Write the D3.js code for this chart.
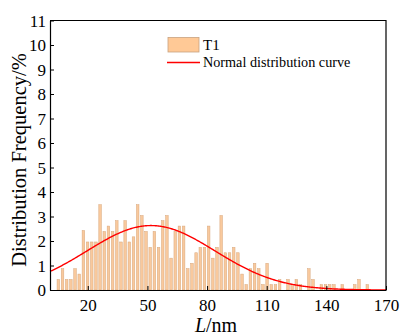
<!DOCTYPE html>
<html>
<head>
<meta charset="utf-8">
<script src="https://cdn.jsdelivr.net/npm/d3@7"></script>
<style>
  body { margin: 0; background: #fff; }
  text { font-family: "Liberation Serif", "Times New Roman", serif; }
</style>
</head>
<body>
<div id="chart"></div>
<script>
// histogram of lengths (bin centres in nm) and frequency (%)
const binStart = 5.2;
const binWidth = 2.1;
const frequency = [
  0.43, 0.87, 0.43, 0.43, 0.87, 0.65, 2.43, 1.96, 1.96, 1.96,
  3.48, 2.39, 2.61, 2.39, 2.83, 1.96, 2.83, 1.96, 2.17, 3.48,
  3.04, 2.39, 1.74, 2.39, 1.74, 2.83, 3.04, 1.30, 2.39, 2.61,
  2.61, 0.87, 1.09, 1.52, 1.74, 1.74, 2.61, 1.30, 1.74, 3.04,
  1.52, 1.52, 1.74, 1.52, 0.65, 0.22, 0.87, 1.09, 0.87, 0.22,
  1.09, 0.22, 0.22, 0.43, 0, 0.43, 0.22, 0.43, 0.22, 0,
  0.87, 0.43, 0, 0.22, 0.22, 0.22, 0.22, 0, 0.22, 0,
  0, 0.22, 0.43, 0, 0.22
];

// fitted normal curve
const curveMean = 51.8;
const curveSd = 32.2;
const curvePeak = 2.63;

const xTicks = [20, 50, 80, 110, 140, 170];
const yTicks = [0, 1, 2, 3, 4, 5, 6, 7, 8, 9, 10, 11];

const width = 404, height = 336;
const svg = d3.select("#chart").append("svg")
  .attr("width", width)
  .attr("height", height);

const x = d3.scaleLinear().domain([1, 170]).range([50, 386]);
const y = d3.scaleLinear().domain([0, 11]).range([290, 20.5]);

const bins = frequency.map((f, i) => ({ c: binStart + i * binWidth, f: f }));

// bars
svg.append("g")
  .selectAll("rect")
  .data(bins.filter(d => d.f > 0))
  .join("rect")
  .attr("x", d => x(d.c - binWidth * 0.31))
  .attr("width", x(binWidth * 0.62) - x(0))
  .attr("y", d => y(d.f))
  .attr("height", d => y(0) - y(d.f))
  .attr("fill", "#F9C99D")
  .attr("stroke", "#D8A77C")
  .attr("stroke-width", 0.5);

// normal curve
const curvePts = d3.range(1, 170.5, 0.5).map(v => [v, curvePeak * Math.exp(-((v - curveMean) ** 2) / (2 * curveSd * curveSd))]);
svg.append("path")
  .datum(curvePts)
  .attr("fill", "none")
  .attr("stroke", "#FF0000")
  .attr("stroke-width", 1.4)
  .attr("d", d3.line().x(d => x(d[0])).y(d => y(d[1])));

// axes
const xAxis = svg.append("g")
  .attr("transform", `translate(0,${y(0)})`)
  .call(d3.axisBottom(x).tickValues(xTicks).tickSize(-4).tickPadding(9).tickSizeOuter(0));
const yAxis = svg.append("g")
  .attr("transform", `translate(${x(1)},0)`)
  .call(d3.axisLeft(y).tickValues(yTicks).tickSize(-4).tickPadding(4).tickSizeOuter(0));

[xAxis, yAxis].forEach(a => {
  a.select(".domain").attr("stroke", "#000").attr("stroke-width", 1.2);
  a.selectAll(".tick line").attr("stroke", "#000").attr("stroke-width", 1);
  a.selectAll(".tick text")
    .attr("fill", "#000")
    .style("font-size", "17px")
    .style("font-family", "'Liberation Serif', serif");
});
yAxis.selectAll(".tick text").attr("dy", "0.34em");

// frame top / right
svg.append("path")
  .attr("d", `M${x(1)},${y(11)}H${x(170)}V${y(0)}`)
  .attr("fill", "none")
  .attr("stroke", "#000")
  .attr("stroke-width", 1.2);

// axis titles
svg.append("text")
  .attr("transform", `translate(26,160) rotate(-90)`)
  .attr("text-anchor", "middle")
  .style("font-size", "20.5px")
  .text("Distribution Frequency/%");

const xt = svg.append("text")
  .attr("x", 216)
  .attr("y", 332)
  .attr("text-anchor", "middle")
  .style("font-size", "20px");
xt.append("tspan").style("font-style", "italic").text("L");
xt.append("tspan").text("/nm");

// legend
const lg = svg.append("g");
lg.append("rect")
  .attr("x", 168).attr("y", 37.5)
  .attr("width", 31).attr("height", 14.5)
  .attr("fill", "#FFC996")
  .attr("stroke", "#C9A27F")
  .attr("stroke-width", 0.8);
lg.append("text")
  .attr("x", 203).attr("y", 50)
  .style("font-size", "15px")
  .text("T1");
lg.append("line")
  .attr("x1", 167).attr("x2", 200)
  .attr("y1", 62.5).attr("y2", 62.5)
  .attr("stroke", "#FF0000")
  .attr("stroke-width", 1.4);
lg.append("text")
  .attr("x", 203).attr("y", 67)
  .style("font-size", "14.2px")
  .text("Normal distribution curve");
</script>
</body>
</html>
